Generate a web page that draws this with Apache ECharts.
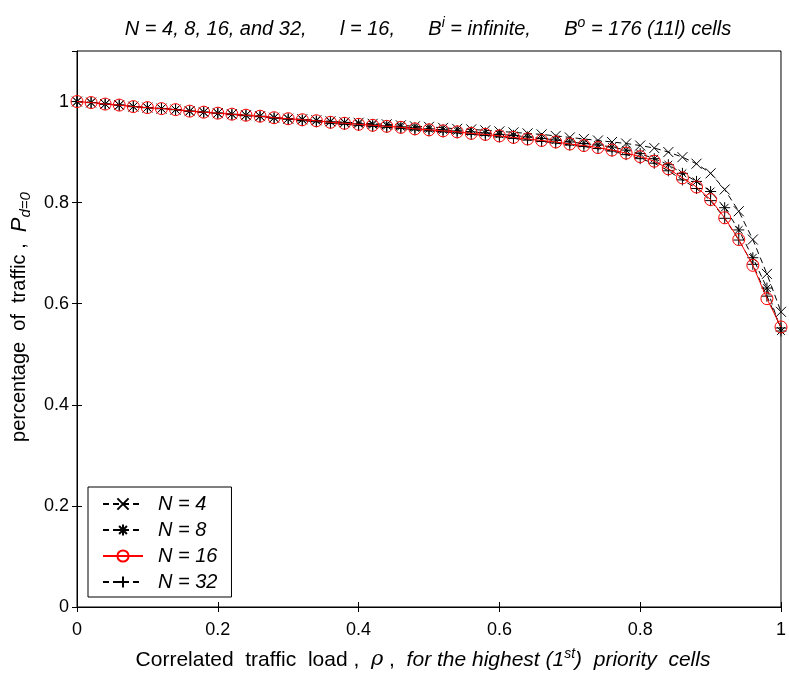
<!DOCTYPE html>
<html>
<head>
<meta charset="utf-8">
<script src="https://cdn.jsdelivr.net/npm/echarts@6/dist/echarts.min.js"></script>
<style>html,body{margin:0;padding:0;background:#fff}#c{width:789px;height:678px}</style>
</head>
<body>
<div id="c"></div>
<script>
const rho = [0.00,0.02,0.04,0.06,0.08,0.10,0.12,0.14,0.16,0.18,0.20,0.22,0.24,0.26,0.28,0.30,0.32,0.34,0.36,0.38,0.40,0.42,0.44,0.46,0.48,0.50,0.52,0.54,0.56,0.58,0.60,0.62,0.64,0.66,0.68,0.70,0.72,0.74,0.76,0.78,0.80,0.82,0.84,0.86,0.88,0.90,0.92,0.94,0.96,0.98,1.00];
const n4  = [1.000,0.998,0.995,0.993,0.990,0.988,0.986,0.984,0.981,0.979,0.977,0.975,0.973,0.971,0.968,0.966,0.965,0.963,0.961,0.959,0.958,0.956,0.955,0.953,0.951,0.950,0.948,0.946,0.945,0.943,0.941,0.939,0.937,0.935,0.932,0.929,0.926,0.923,0.920,0.917,0.913,0.908,0.900,0.890,0.877,0.858,0.826,0.783,0.727,0.659,0.584];
const n8  = [1.000,0.998,0.995,0.993,0.990,0.988,0.986,0.984,0.981,0.979,0.977,0.975,0.973,0.971,0.968,0.966,0.964,0.962,0.960,0.958,0.956,0.954,0.952,0.950,0.948,0.946,0.944,0.942,0.940,0.938,0.935,0.933,0.930,0.927,0.924,0.920,0.917,0.914,0.910,0.904,0.897,0.887,0.875,0.858,0.842,0.822,0.790,0.746,0.691,0.631,0.546];
const n16 = [1.000,0.998,0.995,0.993,0.990,0.988,0.986,0.984,0.981,0.979,0.977,0.975,0.973,0.971,0.968,0.966,0.964,0.962,0.959,0.957,0.955,0.953,0.951,0.949,0.946,0.944,0.942,0.940,0.937,0.935,0.932,0.929,0.926,0.923,0.920,0.916,0.913,0.909,0.904,0.898,0.891,0.882,0.867,0.849,0.831,0.806,0.770,0.727,0.676,0.610,0.554];
const n32 = [1.000,0.998,0.995,0.993,0.990,0.988,0.986,0.984,0.981,0.979,0.977,0.974,0.972,0.970,0.967,0.965,0.962,0.960,0.957,0.955,0.953,0.951,0.949,0.947,0.944,0.942,0.940,0.938,0.935,0.933,0.930,0.927,0.924,0.921,0.918,0.914,0.911,0.907,0.902,0.895,0.887,0.878,0.863,0.845,0.828,0.804,0.769,0.726,0.678,0.615,0.552];
const seriesNames = ['N = 4','N = 8','N = 16','N = 32'];
const xTicks = [0,0.2,0.4,0.6,0.8,1];
const yTicks = [0,0.2,0.4,0.6,0.8,1];

const FONT = 'Liberation Sans, Arial, sans-serif';
const pts = a => a.map((v,i)=>[rho[i],v]);
const symX = 'path://M0,0L10,10M0,10L10,0';
const symPlus = 'path://M5,0L5,10M0,5L10,5';
const symStar = 'path://M5,0L5,10M0,5L10,5M1.5,1.5L8.5,8.5M1.5,8.5L8.5,1.5';

function blackSeries(name, data, sym, size){
  return {
    name, type:'line', data:pts(data), symbol:sym, symbolSize:size, showAllSymbol:true,
    lineStyle:{color:'#000', width:1, type:[6,4]},
    itemStyle:{color:'rgba(0,0,0,0)', borderColor:'#000', borderWidth:1},
    z:2
  };
}

const chart = echarts.init(document.getElementById('c'), null, {renderer:'canvas'});
const fmt = v => (v===0||v===1) ? String(v) : String(+v.toFixed(1));
const SP = '      ';
chart.setOption({
  backgroundColor:'#fff',
  animation:false,
  title:{
    left:423, top:11, textAlign:'center',
    text:'{a|N = 4, 8, 16, and 32,'+SP+'l = 16,'+SP+'B}{s|i}{a| = infinite,'+SP+'B}{s|o}{a| = 176 (11l) cells}',
    textStyle:{rich:{
      a:{fontFamily:FONT, fontStyle:'italic', fontWeight:'normal', fontSize:20, color:'#000'},
      s:{fontFamily:FONT, fontStyle:'italic', fontWeight:'normal', fontSize:14, color:'#000', padding:[0,0,12,0]}
    }}
  },
  grid:{left:77, right:7, top:51, bottom:71, show:true, borderColor:'#000', borderWidth:1, backgroundColor:'#fff'},
  legend:{
    orient:'vertical', left:88, top:487, data:seriesNames,
    backgroundColor:'#fff', borderColor:'#000', borderWidth:1,
    padding:[7,14,5,14], itemGap:6, itemWidth:40, itemHeight:14,
    textStyle:{fontFamily:FONT, fontStyle:'italic', fontSize:20, lineHeight:20, color:'#000', padding:[0,0,0,10]}
  },
  xAxis:[{
    type:'value', min:0, max:1, interval:0.2, position:'bottom',
    axisLine:{lineStyle:{color:'#000'}}, axisTick:{inside:true, length:5, lineStyle:{color:'#000'}},
    splitLine:{show:false},
    axisLabel:{fontFamily:FONT, fontSize:18, color:'#000', margin:14, formatter:fmt},
    name:'{a|Correlated  traffic  load ,  }{r|ρ}{a| ,  }{i|for the highest (1}{s|st}{i|)  priority  cells}',
    nameLocation:'middle', nameGap:40,
    nameTextStyle:{padding:[0,12,0,0], rich:{
      a:{fontFamily:FONT, fontSize:21, color:'#000'},
      r:{fontFamily:'DejaVu Serif, serif', fontStyle:'italic', fontSize:21, color:'#000'},
      i:{fontFamily:FONT, fontStyle:'italic', fontSize:21, color:'#000'},
      s:{fontFamily:FONT, fontStyle:'italic', fontSize:14, color:'#000', padding:[0,0,12,0]}
    }}
  },{
    type:'value', min:0, max:1, interval:0.2, position:'top',
    axisLine:{show:false}, axisTick:{inside:true, length:5, lineStyle:{color:'#000'}},
    axisLabel:{show:false}, splitLine:{show:false}
  }],
  yAxis:[{
    type:'value', min:0, max:1.1, interval:0.2, position:'left',
    axisLine:{lineStyle:{color:'#000'}}, axisTick:{inside:true, length:5, lineStyle:{color:'#000'}},
    splitLine:{show:false},
    axisLabel:{fontFamily:FONT, fontSize:18, color:'#000', margin:8, showMaxLabel:false, formatter:fmt},
    name:'{a|percentage  of  traffic ,  }{p|P}{b|d=0}',
    nameLocation:'middle', nameGap:38, nameRotate:90,
    nameTextStyle:{padding:[0,0,0,24], rich:{
      a:{fontFamily:FONT, fontSize:20, color:'#000'},
      p:{fontFamily:FONT, fontStyle:'italic', fontSize:22, color:'#000'},
      b:{fontFamily:FONT, fontStyle:'italic', fontSize:15, color:'#000', padding:[12,0,0,0]}
    }}
  },{
    type:'value', min:0, max:1.1, interval:0.2, position:'right',
    axisLine:{show:false}, axisTick:{inside:true, length:5, lineStyle:{color:'#000'}},
    axisLabel:{show:false}, splitLine:{show:false}
  }],
  series:[
    blackSeries(seriesNames[0], n4, symX, 10),
    blackSeries(seriesNames[1], n8, symStar, 11),
    {
      name:seriesNames[2], type:'line', data:pts(n16), symbol:'circle', symbolSize:12, showAllSymbol:true,
      lineStyle:{color:'#f00', width:1},
      itemStyle:{color:'rgba(0,0,0,0)', borderColor:'#f00', borderWidth:1},
      z:3
    },
    blackSeries(seriesNames[3], n32, symPlus, 11)
  ]
});
</script>
</body>
</html>
